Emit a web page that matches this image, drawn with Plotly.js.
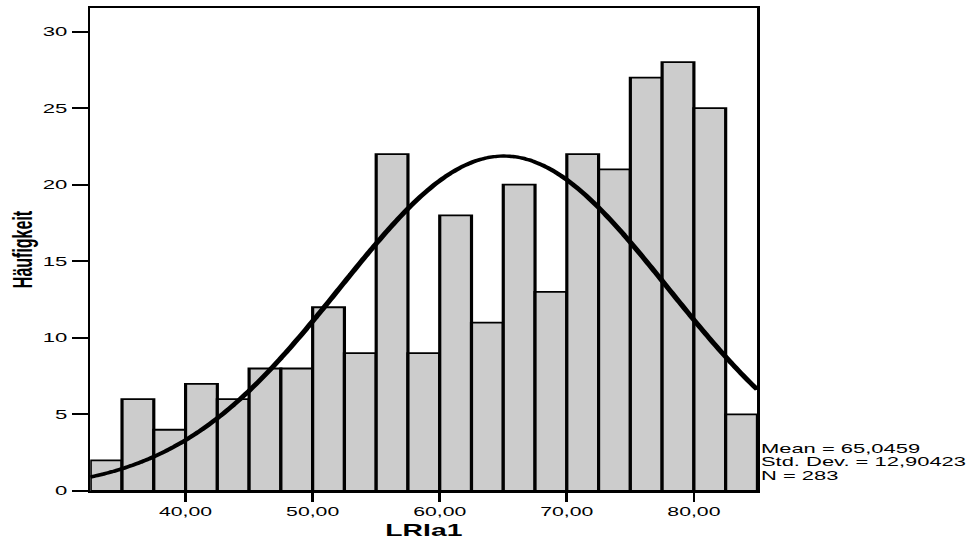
<!DOCTYPE html>
<html>
<head>
<meta charset="utf-8">
<script src="https://cdn.plot.ly/plotly-3.0.1.min.js"></script>
<style>
  html, body { margin: 0; padding: 0; background: #ffffff; overflow: hidden; }
  #wrap { width: 968px; height: 540px; overflow: hidden; }
  #chart { width: 547px; height: 540px; transform: scaleX(1.7697); transform-origin: 0 0; }
</style>
</head>
<body>
<div id="wrap"><div id="chart"></div></div>
<script>
// ---- data ----
const binStarts = [32.5, 35, 37.5, 40, 42.5, 45, 47.5, 50, 52.5, 55, 57.5, 60, 62.5, 65, 67.5, 70, 72.5, 75, 77.5, 80, 82.5];
const counts    = [2, 6, 4, 7, 6, 8, 8, 12, 9, 22, 9, 18, 11, 20, 13, 22, 21, 27, 28, 25, 5];
const binWidth  = 2.5;
const meanVal   = 65.0459;
const stdDev    = 12.90423;
const nCount    = 283;
const xTickVals = [40, 50, 60, 70, 80];
const xTickText = ["40,00", "50,00", "60,00", "70,00", "80,00"];
const yTickVals = [0, 5, 10, 15, 20, 25, 30];
const statLines = ["Mean = 65,0459", "Std. Dev. = 12,90423", "N = 283"];

// bar centres
const binCenters = binStarts.map(s => s + binWidth / 2);

// fitted normal curve (scaled to counts) from the stated mean / sd / N
const curveX = [];
const curveY = [];
for (let i = 0; i <= 210; i++) {
  const x = 32.5 + i * 0.25;
  const z = (x - meanVal) / stdDev;
  curveX.push(x);
  curveY.push(nCount * binWidth * Math.exp(-0.5 * z * z) / (stdDev * Math.sqrt(2 * Math.PI)));
}

const FONT = "'Liberation Sans', Arial, Helvetica, sans-serif";

const traces = [
  {
    type: "bar",
    x: binCenters,
    y: counts,
    width: binWidth,
    marker: { color: "#cccccc", line: { color: "#000000", width: 1.8 } },
    hoverinfo: "skip"
  },
  {
    type: "scatter",
    mode: "lines",
    x: curveX,
    y: curveY,
    line: { color: "#000000", width: 3.4, shape: "spline" },
    hoverinfo: "skip"
  }
];

const statY = [2.76, 1.89, 1.01];
const annotations = statLines.map((t, i) => ({
  text: t,
  xref: "paper", yref: "y",
  x: 1, y: statY[i],
  xanchor: "left", yanchor: "middle",
  showarrow: false,
  align: "left",
  font: { family: FONT, size: 12.4, color: "#000000" }
}));

const layout = {
  width: 547,
  height: 540,
  margin: { l: 51, r: 118.7, t: 8, b: 48.5, pad: 0 },
  paper_bgcolor: "#ffffff",
  plot_bgcolor: "#ffffff",
  showlegend: false,
  bargap: 0,
  separators: ",.",
  font: { family: FONT, color: "#000000" },
  xaxis: {
    range: [32.5, 85],
    tickvals: xTickVals,
    ticktext: xTickText,
    ticks: "outside",
    ticklen: 9,
    tickwidth: 1.5,
    tickcolor: "#000000",
    showgrid: false,
    zeroline: false,
    showline: true,
    linewidth: 2,
    linecolor: "#000000",
    mirror: true,
    tickfont: { family: FONT, size: 12, color: "#000000" },
    title: { text: "LRIa1", font: { family: FONT, size: 16, weight: "bold", color: "#000000" }, standoff: 6 }
  },
  yaxis: {
    range: [0, 31.54],
    tickvals: yTickVals,
    ticks: "outside",
    ticklen: 9,
    tickwidth: 2,
    tickcolor: "#000000",
    showgrid: false,
    zeroline: false,
    showline: true,
    linewidth: 1.5,
    linecolor: "#000000",
    mirror: true,
    tickfont: { family: FONT, size: 12.5, color: "#000000" },
    title: { text: "Häufigkeit", font: { family: FONT, size: 16, weight: "bold", color: "#000000" }, standoff: 1 }
  },
  annotations: annotations
};

Plotly.newPlot("chart", traces, layout, { staticPlot: true, displayModeBar: false });
</script>
</body>
</html>
